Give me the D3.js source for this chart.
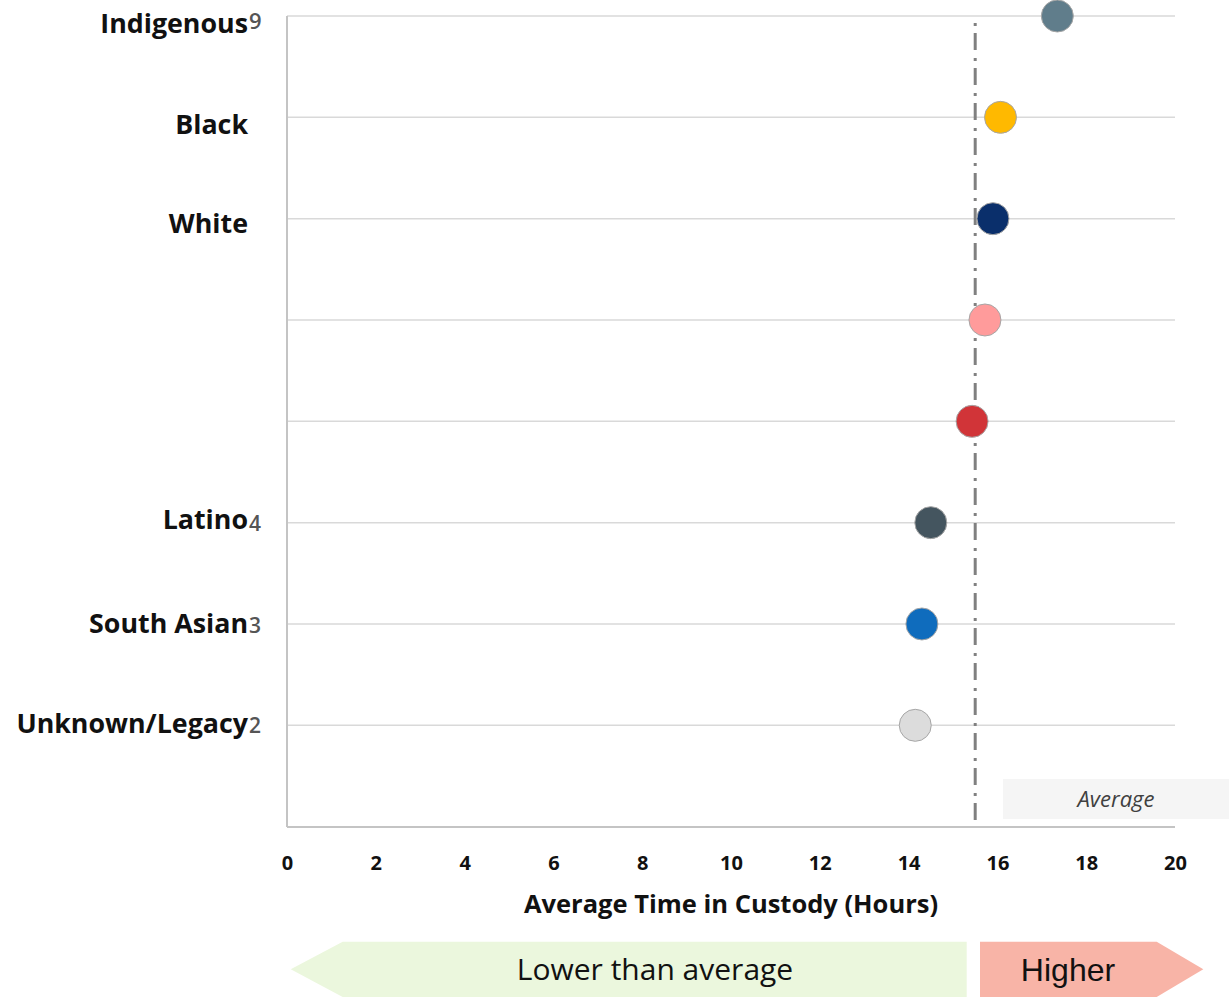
<!DOCTYPE html>
<html>
<head>
<meta charset="utf-8">
<script src="https://cdn.jsdelivr.net/npm/d3@7"></script>
<style>
  html, body { margin: 0; padding: 0; background: #ffffff; }
  svg { display: block; }
</style>
</head>
<body>
<svg id="chart" width="1229" height="997"></svg>
<script>
// Average time in custody by group (hours)
const groups     = ["Indigenous", "Black", "White", "g4", "g5", "Latino", "South Asian", "Unknown/Legacy"];
const labels     = ["Indigenous", "Black", "White", "", "", "Latino", "South Asian", "Unknown/Legacy"];
const footnotes  = ["9", "", "", "", "", "4", "3", "2"];
const hours      = [17.35, 16.07, 15.9, 15.72, 15.43, 14.5, 14.3, 14.15];
const dotColors  = ["#607d8b", "#ffb900", "#0a2f6b", "#ff9b9b", "#d13438", "#44555f", "#0f6cbd", "#dcdcdc"];
const averageHours = 15.5;
const xTicks     = [0, 2, 4, 6, 8, 10, 12, 14, 16, 18, 20];
const axisTitle  = "Average Time in Custody (Hours)";
const lowerText  = "Lower than average";
const higherText = "Higher";
const averageText = "Average";

const svg = d3.select("#chart");
const FONT = "'Open Sans', 'Noto Sans', sans-serif";

const x = d3.scaleLinear().domain([0, 20]).range([287, 1175]);
const y = d3.scalePoint().domain(groups).range([16, 725.3]);
const axisY = 827;

// horizontal guide lines, one per group
svg.append("g").selectAll("line")
  .data(groups).join("line")
  .attr("x1", x(0)).attr("x2", x(20))
  .attr("y1", d => y(d)).attr("y2", d => y(d))
  .attr("stroke", "#d9d9d9").attr("stroke-width", 1.5);

// left and bottom axis lines
svg.append("line")
  .attr("x1", x(0)).attr("x2", x(0)).attr("y1", y(groups[0])).attr("y2", axisY)
  .attr("stroke", "#c4c4c4").attr("stroke-width", 2);
svg.append("line")
  .attr("x1", x(0)).attr("x2", x(20)).attr("y1", axisY).attr("y2", axisY)
  .attr("stroke", "#c4c4c4").attr("stroke-width", 2);

// "Average" tag box
svg.append("rect")
  .attr("x", 1003).attr("y", 779).attr("width", 226).attr("height", 40)
  .attr("fill", "#f5f5f5");
svg.append("text")
  .attr("x", 1116).attr("y", 807)
  .attr("text-anchor", "middle")
  .attr("font-family", FONT).attr("font-style", "italic")
  .attr("font-size", 22).attr("fill", "#404040")
  .text(averageText);

// average reference line (dash-dot)
svg.append("line")
  .attr("x1", x(averageHours)).attr("x2", x(averageHours))
  .attr("y1", 23).attr("y2", axisY - 1)
  .attr("stroke", "#808080").attr("stroke-width", 3)
  .attr("stroke-dasharray", "3,7,17,8");

// dots
svg.append("g").selectAll("circle")
  .data(groups).join("circle")
  .attr("cx", (d, i) => x(hours[i]))
  .attr("cy", d => y(d))
  .attr("r", 16)
  .attr("fill", (d, i) => dotColors[i])
  .attr("stroke", "#a6a6a6").attr("stroke-width", 1);

// category labels with footnote markers
const labelBaseOffset = [17, 17, 14, 0, 0, 6, 9, 8];
const lab = svg.append("g");
groups.forEach((g, i) => {
  if (!labels[i]) return;
  const by = y(g) + labelBaseOffset[i];
  lab.append("text")
    .attr("x", 248).attr("y", by)
    .attr("text-anchor", "end")
    .attr("font-family", FONT).attr("font-weight", 700)
    .attr("font-size", 26.8).attr("fill", "#111111")
    .text(labels[i]);
  if (footnotes[i]) {
    lab.append("text")
      .attr("x", 249).attr("y", by + (i === 0 ? -4 : (i === 5 ? 2 : 0)))
      .attr("font-family", FONT).attr("font-weight", 600)
      .attr("font-size", i === 0 ? 22 : 21).attr("fill", "#555555")
      .text(footnotes[i]);
  }
});

// x axis tick labels
const xAxis = d3.axisBottom(x).tickValues(xTicks).tickSize(0).tickPadding(0);
const gx = svg.append("g").attr("transform", `translate(0, ${axisY})`).call(xAxis);
gx.select(".domain").remove();
gx.selectAll("text")
  .attr("y", 43).attr("dy", null)
  .attr("font-family", FONT).attr("font-weight", 700)
  .attr("font-size", 20).attr("fill", "#111111");

// axis title
svg.append("text")
  .attr("x", 731).attr("y", 913)
  .attr("text-anchor", "middle")
  .attr("font-family", FONT).attr("font-weight", 700)
  .attr("font-size", 25.5).attr("fill", "#111111")
  .text(axisTitle);

// direction arrows below the axis
const arrowTop = 941.7, arrowBot = 997, arrowMid = 969.3;
svg.append("path")
  .attr("d", `M290.7,${arrowMid} L342.7,${arrowTop} L966.7,${arrowTop} L966.7,${arrowBot} L342.7,${arrowBot} Z`)
  .attr("fill", "#ebf7dd");
svg.append("path")
  .attr("d", `M980,${arrowTop} L1156.7,${arrowTop} L1203.3,${arrowMid} L1156.7,${arrowBot} L980,${arrowBot} Z`)
  .attr("fill", "#f8b4a7");
svg.append("text")
  .attr("x", 655).attr("y", 980)
  .attr("text-anchor", "middle")
  .attr("font-family", FONT)
  .attr("font-size", 30).attr("fill", "#111111")
  .text(lowerText);
svg.append("text")
  .attr("x", 1068).attr("y", 981)
  .attr("text-anchor", "middle")
  .attr("font-family", "'Liberation Sans', Arial, sans-serif")
  .attr("font-size", 32).attr("fill", "#111111")
  .text(higherText);
</script>
</body>
</html>
